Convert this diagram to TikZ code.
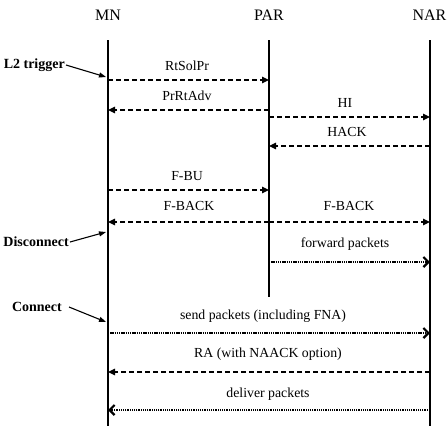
\documentclass[tikz,border=0pt]{standalone}
\usepackage{fontspec}
\setmainfont{Liberation Serif}
\usetikzlibrary{arrows.meta}
\begin{document}
\begin{tikzpicture}[x=1pt,y=-1pt,
  title/.style={font=\fontsize{16}{18}\selectfont},
  lbl/.style={font=\fontsize{13.8}{15}\selectfont},
  side/.style={font=\bfseries\fontsize{14}{16}\selectfont},
  life/.style={line width=1.3pt},
  dmsg/.style={line width=1.3pt, dash pattern=on 5pt off 3pt, -{Triangle[length=7pt,width=6.5pt]}},
  pmsg/.style={line width=2pt, dash pattern=on 1.3pt off 0.9pt, -{Straight Barb[length=5pt,width=10pt,line width=2.2pt]}},
  ptr/.style={line width=1.1pt, -{Triangle[length=7pt,width=5pt]}}]
\useasboundingbox (0,0) rectangle (447,429);
% titles
\node[title] (tMN) at (108,15) {MN};
\node[title] (tPAR) at (269,15) {PAR};
\node[title,anchor=east,inner xsep=0.5pt] (tNAR) at (447,15) {NAR};
% lifelines
\coordinate (mn0) at (108,40); \coordinate (mn1) at (108,426);
\coordinate (par0) at (269,40); \coordinate (par1) at (269,297);
\coordinate (nar0) at (430,40); \coordinate (nar1) at (430,426);
\draw[life] (mn0) -- (mn1);
\draw[life] (par0) -- (par1);
\draw[life] (nar0) -- (nar1);
% message endpoints
\coordinate (a1) at (108,80);  \coordinate (b1) at (269,80);
\coordinate (a2) at (269,110); \coordinate (b2) at (108,110);
\coordinate (a3) at (269,117); \coordinate (b3) at (430,117);
\coordinate (a4) at (430,146); \coordinate (b4) at (269,146);
\coordinate (a5) at (108,190); \coordinate (b5) at (269,190);
\coordinate (a6) at (269,222); \coordinate (b6) at (108,222);
\coordinate (a7) at (269,222); \coordinate (b7) at (430,222);
\coordinate (a8) at (269,262); \coordinate (b8) at (430,262);
\coordinate (a9) at (108,333); \coordinate (b9) at (430,333);
\coordinate (a10) at (430,372); \coordinate (b10) at (108,372);
\coordinate (a11) at (430,410); \coordinate (b11) at (108,410);
\draw[dmsg] (a1) -- (b1);
\draw[dmsg] (a2) -- (b2);
\draw[dmsg] (a3) -- (b3);
\draw[dmsg] (a4) -- (b4);
\draw[dmsg] (a5) -- (b5);
\draw[dmsg] (a6) -- (b6);
\draw[dmsg] (a7) -- (b7);
\draw[pmsg] (a8) -- (b8);
\draw[pmsg] (a9) -- (b9);
\draw[dmsg] (a10) -- (b10);
\draw[pmsg] (a11) -- (b11);
% labels
\node[lbl] (l1) at (187,66) {RtSolPr};
\node[lbl] (l2) at (187,96) {PrRtAdv};
\node[lbl] (l3) at (345,103) {HI};
\node[lbl] (l4) at (347,132) {HACK};
\node[lbl] (l5) at (187,176) {F-BU};
\node[lbl] (l6) at (189,206) {F-BACK};
\node[lbl] (l7) at (349,206) {F-BACK};
\node[lbl] (l8) at (345,244) {forward packets};
\node[lbl] (l9) at (263,316) {send packets (including FNA)};
\node[lbl] (l10) at (268,354) {RA (with NAACK option)};
\node[lbl] (l11) at (268,394) {deliver packets};
% side events
\node[side,anchor=east,inner xsep=1pt] (s1) at (66,65) {L2 trigger};
\coordinate (e1) at (106,77);
\draw[ptr] (s1.east) -- (e1);
\node[side,anchor=east,inner xsep=1pt] (s2) at (70,242) {Disconnect};
\coordinate (e2) at (106,232);
\draw[ptr] (s2.east) -- (e2);
\node[side,anchor=east,inner xsep=1pt] (s3) at (63,307) {Connect};
\coordinate (e3) at (106,322);
\draw[ptr] ([xshift=6pt]s3.east) -- (e3);
\end{tikzpicture}
\end{document}
